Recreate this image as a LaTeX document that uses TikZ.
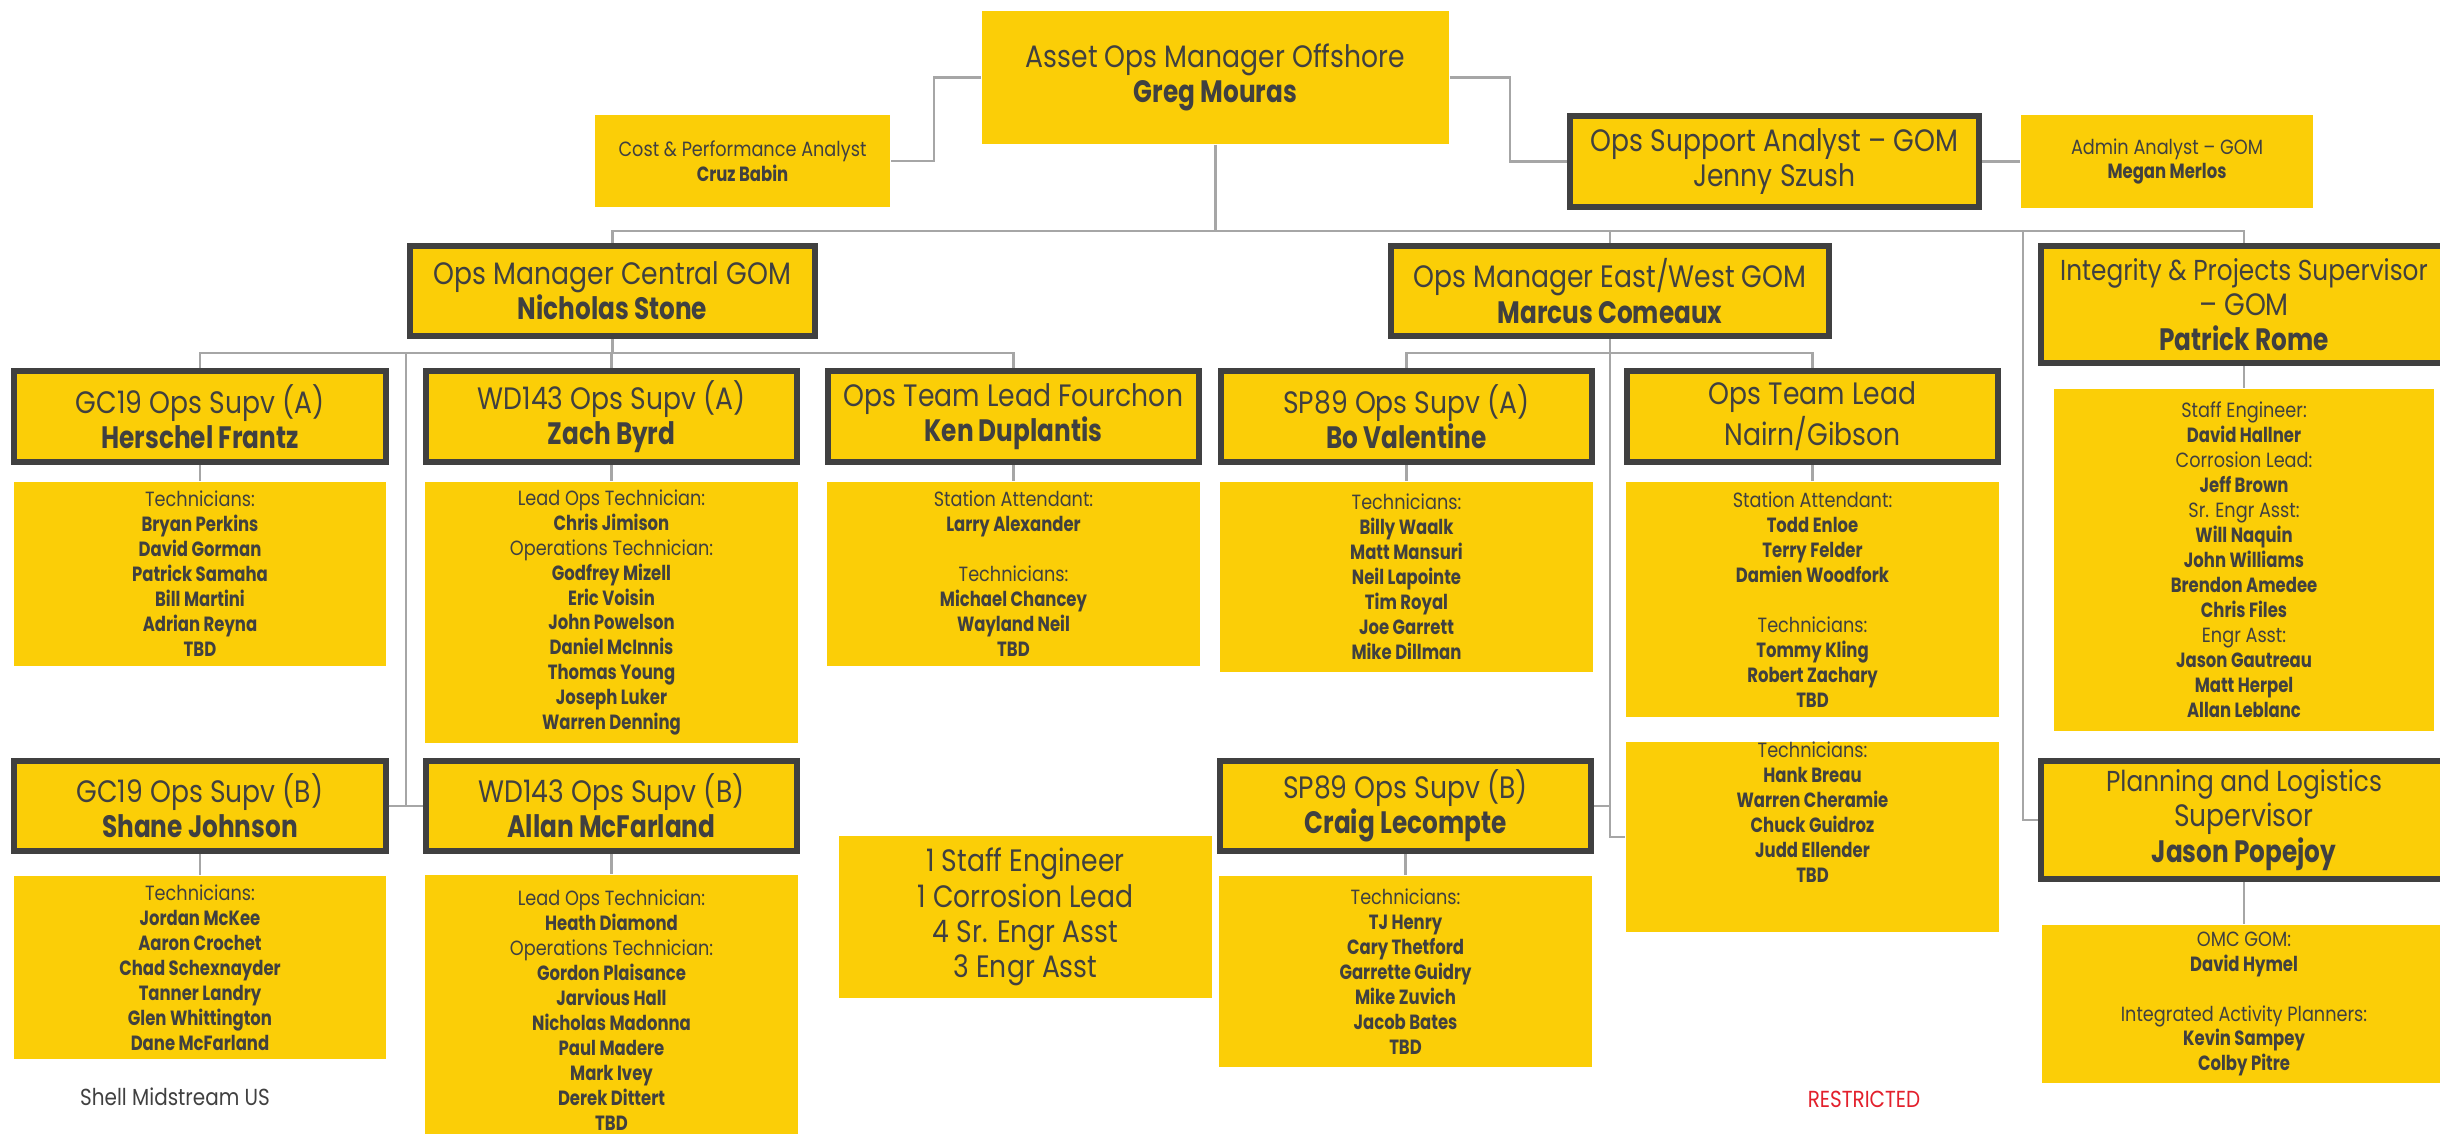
\documentclass[tikz,border=0pt]{standalone}
\usepackage{fontspec}
\setmainfont{Poppins}[UprightFeatures={FakeStretch=0.86},BoldFeatures={FakeStretch=0.8}]
\definecolor{shellyellow}{HTML}{FBCE07}
\definecolor{inkgray}{HTML}{404040}
\definecolor{wiregray}{HTML}{A6A6A6}
\definecolor{restrictred}{HTML}{E3202C}
\newcommand{\headfont}{\fontsize{8.8}{10}\selectfont}
\newcommand{\snugfont}{\fontsize{8.2}{10}\selectfont}
\newcommand{\crewfont}{\fontsize{5.85}{7.1}\selectfont}
\tikzset{
	post/.style={fill=shellyellow, text=inkgray, align=center, inner sep=0pt, font=\headfont},
	lead/.style={post, draw=inkgray, line width=1.7pt},
	crew/.style={post, font=\crewfont},
	wire/.style={draw=wiregray, line width=0.6pt}
}
\begin{document}
\begin{tikzpicture}[x=0.01cm, y=-0.01cm]
		\useasboundingbox (0,0) rectangle (2440,1134);
		\clip (0,0) rectangle (2440,1134);
		\fill[white] (0,0) rectangle (2440,1134);

		\node[post, minimum width=4.67cm, minimum height=1.33cm] (greg) at (1215.5,77.5) {Asset Ops Manager Offshore\\\textbf{Greg Mouras}};
		\node[crew, minimum width=2.95cm, minimum height=0.92cm] (cruz) at (742.5,161) {Cost \& Performance Analyst\\\textbf{Cruz Babin}};
		\node[lead, minimum width=4.09cm, minimum height=0.91cm] (jenny) at (1774.5,161.5) {Ops Support Analyst – GOM\\Jenny Szush};
		\node[crew, minimum width=2.92cm, minimum height=0.93cm] (megan) at (2167,161.5) {Admin Analyst – GOM\\\textbf{Megan Merlos}};

		\node[lead, minimum width=4.05cm, minimum height=0.90cm] (nicholas) at (612.5,291) {Ops Manager Central GOM\\\textbf{Nicholas Stone}};
		\node[lead, minimum width=4.38cm, minimum height=0.90cm] (marcus) at (1610,291) {Ops Manager East/West GOM\\\textbf{Marcus Comeaux}};
		\node[lead, minimum width=4.06cm, minimum height=1.17cm] (patrick) at (2244,304.5) {{\snugfont Integrity \& Projects Supervisor}\\– GOM\\\textbf{Patrick Rome}};

		\node[lead, minimum width=3.71cm, minimum height=0.91cm] (herschel) at (200,416.5) {GC19 Ops Supv (A)\\\textbf{Herschel Frantz}};
		\node[lead, minimum width=3.71cm, minimum height=0.91cm] (zach) at (611.5,416.5) {WD143 Ops Supv (A)\\\textbf{Zach Byrd}};
		\node[lead, minimum width=3.71cm, minimum height=0.91cm] (ken) at (1013.5,416.5) {Ops Team Lead Fourchon\\\textbf{Ken Duplantis}};
		\node[lead, minimum width=3.71cm, minimum height=0.91cm] (bo) at (1406.5,416.5) {SP89 Ops Supv (A)\\\textbf{Bo Valentine}};
		\node[lead, minimum width=3.71cm, minimum height=0.91cm] (nairn) at (1812.5,416.5) {Ops Team Lead\\Nairn/Gibson};

		\node[lead, minimum width=3.71cm, minimum height=0.90cm] (shane) at (200,806) {GC19 Ops Supv (B)\\\textbf{Shane Johnson}};
		\node[lead, minimum width=3.71cm, minimum height=0.90cm] (allan) at (611.5,806) {WD143 Ops Supv (B)\\\textbf{Allan McFarland}};
		\node[lead, minimum width=3.71cm, minimum height=0.90cm] (craig) at (1405.5,806) {SP89 Ops Supv (B)\\\textbf{Craig Lecompte}};
		\node[lead, minimum width=4.06cm, minimum height=1.18cm] (jason) at (2244,820) {{\snugfont Planning and Logistics}\\Supervisor\\\textbf{Jason Popejoy}};

		\node[crew, minimum width=3.72cm, minimum height=1.84cm] (herschel-crew) at (200,574) {Technicians:\\\textbf{Bryan Perkins}\\\textbf{David Gorman}\\\textbf{Patrick Samaha}\\\textbf{Bill Martini}\\\textbf{Adrian Reyna}\\\textbf{TBD}};
		\node[crew, minimum width=3.72cm, minimum height=2.61cm] (zach-crew) at (611.5,612.5) {Lead Ops Technician:\\\textbf{Chris Jimison}\\Operations Technician:\\\textbf{Godfrey Mizell}\\\textbf{Eric Voisin}\\\textbf{John Powelson}\\\textbf{Daniel McInnis}\\\textbf{Thomas Young}\\\textbf{Joseph Luker}\\\textbf{Warren Denning}};
		\node[crew, minimum width=3.73cm, minimum height=1.84cm] (ken-crew) at (1013.5,574) {Station Attendant:\\\textbf{Larry Alexander}\\[7.1pt]Technicians:\\\textbf{Michael Chancey}\\\textbf{Wayland Neil}\\\textbf{TBD}};
		\node[crew, minimum width=3.72cm, minimum height=1.90cm] (bo-crew) at (1406.5,577) {Technicians:\\\textbf{Billy Waalk}\\\textbf{Matt Mansuri}\\\textbf{Neil Lapointe}\\\textbf{Tim Royal}\\\textbf{Joe Garrett}\\\textbf{Mike Dillman}};
		\node[crew, minimum width=3.73cm, minimum height=2.35cm] (nairn-crew) at (1812.5,599.5) {Station Attendant:\\\textbf{Todd Enloe}\\\textbf{Terry Felder}\\\textbf{Damien Woodfork}\\[7.1pt]Technicians:\\\textbf{Tommy Kling}\\\textbf{Robert Zachary}\\\textbf{TBD}};
		\node[crew, minimum width=3.79cm, minimum height=3.42cm] (patrick-crew) at (2244,560) {Staff Engineer:\\\textbf{David Hallner}\\Corrosion Lead:\\\textbf{Jeff Brown}\\Sr. Engr Asst:\\\textbf{Will Naquin}\\\textbf{John Williams}\\\textbf{Brendon Amedee}\\\textbf{Chris Files}\\Engr Asst:\\\textbf{Jason Gautreau}\\\textbf{Matt Herpel}\\\textbf{Allan Leblanc}};
		\node[crew, minimum width=3.72cm, minimum height=1.83cm] (shane-crew) at (200,967.5) {Technicians:\\\textbf{Jordan McKee}\\\textbf{Aaron Crochet}\\\textbf{Chad Schexnayder}\\\textbf{Tanner Landry}\\\textbf{Glen Whittington}\\\textbf{Dane McFarland}};
		\node[crew, minimum width=3.72cm, minimum height=2.70cm] (allan-crew) at (611.5,1010) {Lead Ops Technician:\\\textbf{Heath Diamond}\\Operations Technician:\\\textbf{Gordon Plaisance}\\\textbf{Jarvious Hall}\\\textbf{Nicholas Madonna}\\\textbf{Paul Madere}\\\textbf{Mark Ivey}\\\textbf{Derek Dittert}\\\textbf{TBD}};
		\node[crew, minimum width=3.72cm, minimum height=1.91cm] (craig-crew) at (1405.5,971.5) {Technicians:\\\textbf{TJ Henry}\\\textbf{Cary Thetford}\\\textbf{Garrette Guidry}\\\textbf{Mike Zuvich}\\\textbf{Jacob Bates}\\\textbf{TBD}};
		\node[crew, minimum width=3.73cm, minimum height=1.76cm] (hank-crew) at (1812.5,837) {Technicians:\\\textbf{Hank Breau}\\\textbf{Warren Cheramie}\\\textbf{Chuck Guidroz}\\\textbf{Judd Ellender}\\\textbf{TBD}\\[7.1pt]};
		\node[crew, minimum width=4.04cm, minimum height=1.58cm] (jason-crew) at (2244,1004) {OMC GOM:\\\textbf{David Hymel}\\[7.1pt]Integrated Activity Planners:\\\textbf{Kevin Sampey}\\\textbf{Colby Pitre}};
		\node[post, minimum width=3.73cm, minimum height=1.62cm] (headcount) at (1025.5,917) {1 Staff Engineer\\1 Corrosion Lead\\4 Sr. Engr Asst\\3 Engr Asst};

		\node[text=inkgray, font=\fontsize{6.6}{7.5}\selectfont] (shell) at (175,1097) {Shell Midstream US};
		\node[text=restrictred, font=\fontsize{6.6}{7.5}\selectfont] (restricted) at (1864,1099) {RESTRICTED};

		\draw[wire] (greg.west) -- ++(-47,0) |- (cruz.east);
		\draw[wire] (greg.east) -- ++(60,0) |- (jenny.west);
		\draw[wire] (jenny.east) -- (megan.west);
		\draw[wire] (greg.south) -- ++(0,86) coordinate (hub);
		\draw[wire] (nicholas.north) |- (hub) -| (patrick.north);
		\draw[wire] (marcus.north) -- (marcus.north |- hub);
		\draw[wire] (jason.west) -- ++(-15,0) |- (hub);

		\draw[wire] (nicholas.south) -- ++(0,14) coordinate (central);
		\draw[wire] (herschel.north) |- (central) -| (ken.north);
		\draw[wire] (zach.north) -- (zach.north |- central);
		\draw[wire] (shane.east) -- (allan.west);
		\draw[wire] (shane.east) -- ++(17,0) |- (central);

		\draw[wire] (marcus.south) -- ++(0,14) coordinate (eastwest);
		\draw[wire] (bo.north) |- (eastwest) -| (nairn.north);
		\draw[wire] (eastwest) |- (hank-crew.west);
		\draw[wire] (craig.east) -| (eastwest);

		\foreach \who in {herschel,zach,ken,bo,nairn,patrick,shane,allan,craig,jason}
			\draw[wire] (\who.south) -- (\who-crew.north);
\end{tikzpicture}
\end{document}
